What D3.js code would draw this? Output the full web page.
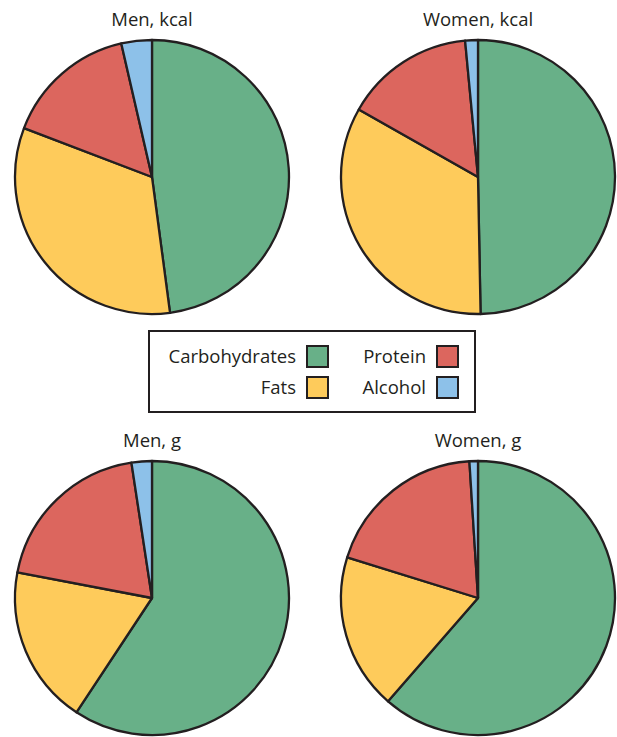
<!DOCTYPE html>
<html>
<head>
<meta charset="utf-8">
<script src="https://cdn.jsdelivr.net/npm/d3@7"></script>
<style>
  body { margin: 0; background: #fff; }
  text { font-family: "Open Sans", sans-serif; fill: #231f20; }
</style>
</head>
<body>
<svg id="drawing_region"></svg>
<script>
const categories = ['Carbohydrates', 'Fats', 'Protein', 'Alcohol'];
const colors = ['#68b088', '#fecb5b', '#dc665e', '#8dc1e9'];

const titles = ['Men, kcal', 'Women, kcal', 'Men, g', 'Women, g'];
const men_kcal = [47.9, 32.9, 15.6, 3.6];
const women_kcal = [49.7, 33.5, 15.3, 1.5];
const men_g = [59.3, 18.7, 19.6, 2.4];
const women_g = [61.4, 18.4, 19.2, 1.0];

// legend layout: [category index, column, row]
const legend_items = [[0, 0, 0], [2, 1, 0], [1, 0, 1], [3, 1, 1]];

class PieChart {

    constructor( config, data ) {
        this.config = {
            parent: config.parent,
            cx: config.cx,
            cy: config.cy,
            radius: config.radius || 137,
            title: config.title
        };
        this.data = data;
        this.init();
    }

    init() {
        let self = this;
        self.chart = self.config.parent.append('g')
            .attr('transform', `translate(${self.config.cx}, ${self.config.cy})`);
        self.pie = d3.pie().sort(null).value( d => d.value );
        self.arc = d3.arc()
            .innerRadius( 0 )
            .outerRadius( self.config.radius );
        self.color = d3.scaleOrdinal().domain(categories).range(colors);
    }

    render() {
        let self = this;
        self.chart.selectAll('path')
            .data( self.pie(self.data) )
            .enter()
            .append('path')
            .attr('d', self.arc)
            .attr('fill', d => self.color(d.data.label))
            .attr('stroke', '#231f20')
            .attr('stroke-linejoin', 'round')
            .style('stroke-width', '2.3px');
        self.chart.append('text')
            .attr('x', 0)
            .attr('y', -self.config.radius - 14)
            .attr('text-anchor', 'middle')
            .style('font-size', '18.5px')
            .text( self.config.title );
    }
}

const svg = d3.select('#drawing_region')
    .attr('width', 617)
    .attr('height', 737);

const series = [men_kcal, women_kcal, men_g, women_g];
const centers = [[152, 177], [478, 177], [152, 598], [478, 598]];

series.forEach( (values, i) => {
    const data = categories.map( (c, j) => ({ label: c, value: values[j] }) );
    const chart = new PieChart( {
        parent: svg,
        cx: centers[i][0],
        cy: centers[i][1],
        radius: 137,
        title: titles[i]
    }, data );
    chart.render();
});

// legend
const legend = svg.append('g');
legend.append('rect')
    .attr('x', 149).attr('y', 331)
    .attr('width', 326).attr('height', 81)
    .attr('fill', 'none')
    .attr('stroke', '#231f20')
    .attr('stroke-width', 2);

const col_x = [307, 437];
const row_y = [346, 377];
legend_items.forEach( ([k, c, r]) => {
    legend.append('rect')
        .attr('x', col_x[c]).attr('y', row_y[r])
        .attr('width', 21).attr('height', 21)
        .attr('fill', colors[k])
        .attr('stroke', '#231f20')
        .attr('stroke-width', 2);
    legend.append('text')
        .attr('x', col_x[c] - 11)
        .attr('y', row_y[r] + 17)
        .attr('text-anchor', 'end')
        .style('font-size', '18.5px')
        .text( categories[k] );
});
</script>
</body>
</html>
